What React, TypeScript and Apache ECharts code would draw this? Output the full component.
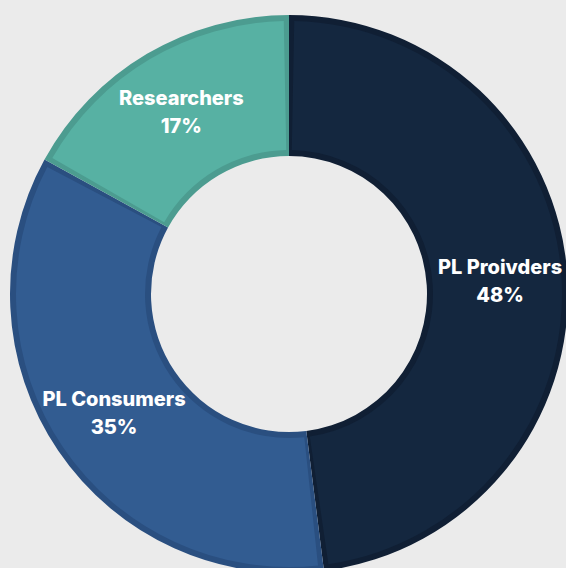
import React, { useEffect, useRef } from "react";
import * as echarts from "echarts";

const categories = ["PL Proivders", "PL Consumers", "Researchers"];
const values = [48, 35, 17];
const fillColors = ["#14273f", "#325c91", "#57b1a3"];
const edgeColors = ["#101f34", "#2a4f80", "#4c9c90"];

export default function App() {
  const ref = useRef<HTMLDivElement>(null);
  useEffect(() => {
    if (!ref.current) return;
    const chart = echarts.init(ref.current, undefined, { renderer: "svg" });
    const base = categories.map((name, i) => ({ name, value: values[i] }));
    chart.setOption({
      animation: false,
      backgroundColor: "#ebebeb",
      series: [
        {
          type: "pie",
          center: [289, 294],
          radius: [138, 279],
          startAngle: 90,
          clockwise: true,
          silent: true,
          label: { show: false },
          labelLine: { show: false },
          data: base.map((d, i) => ({ ...d, itemStyle: { color: edgeColors[i] } })),
        },
        {
          type: "pie",
          center: [289, 294],
          radius: [144, 273],
          startAngle: 90,
          clockwise: true,
          padAngle: 2.2,
          silent: true,
          labelLine: { show: false },
          label: {
            show: true,
            position: "inside",
            formatter: (p: any) => `${p.name}\n${p.value}%`,
            color: "#ffffff",
            fontFamily: "Inter",
            fontWeight: 800,
            fontSize: 20,
            lineHeight: 28,
            align: "center",
          },
          data: base.map((d, i) => ({ ...d, itemStyle: { color: fillColors[i] } })),
        },
      ],
    });
    return () => chart.dispose();
  }, []);
  return (
    <div
      ref={ref}
      style={{ position: "fixed", left: 0, top: 0, width: 566, height: 568 }}
    />
  );
}
